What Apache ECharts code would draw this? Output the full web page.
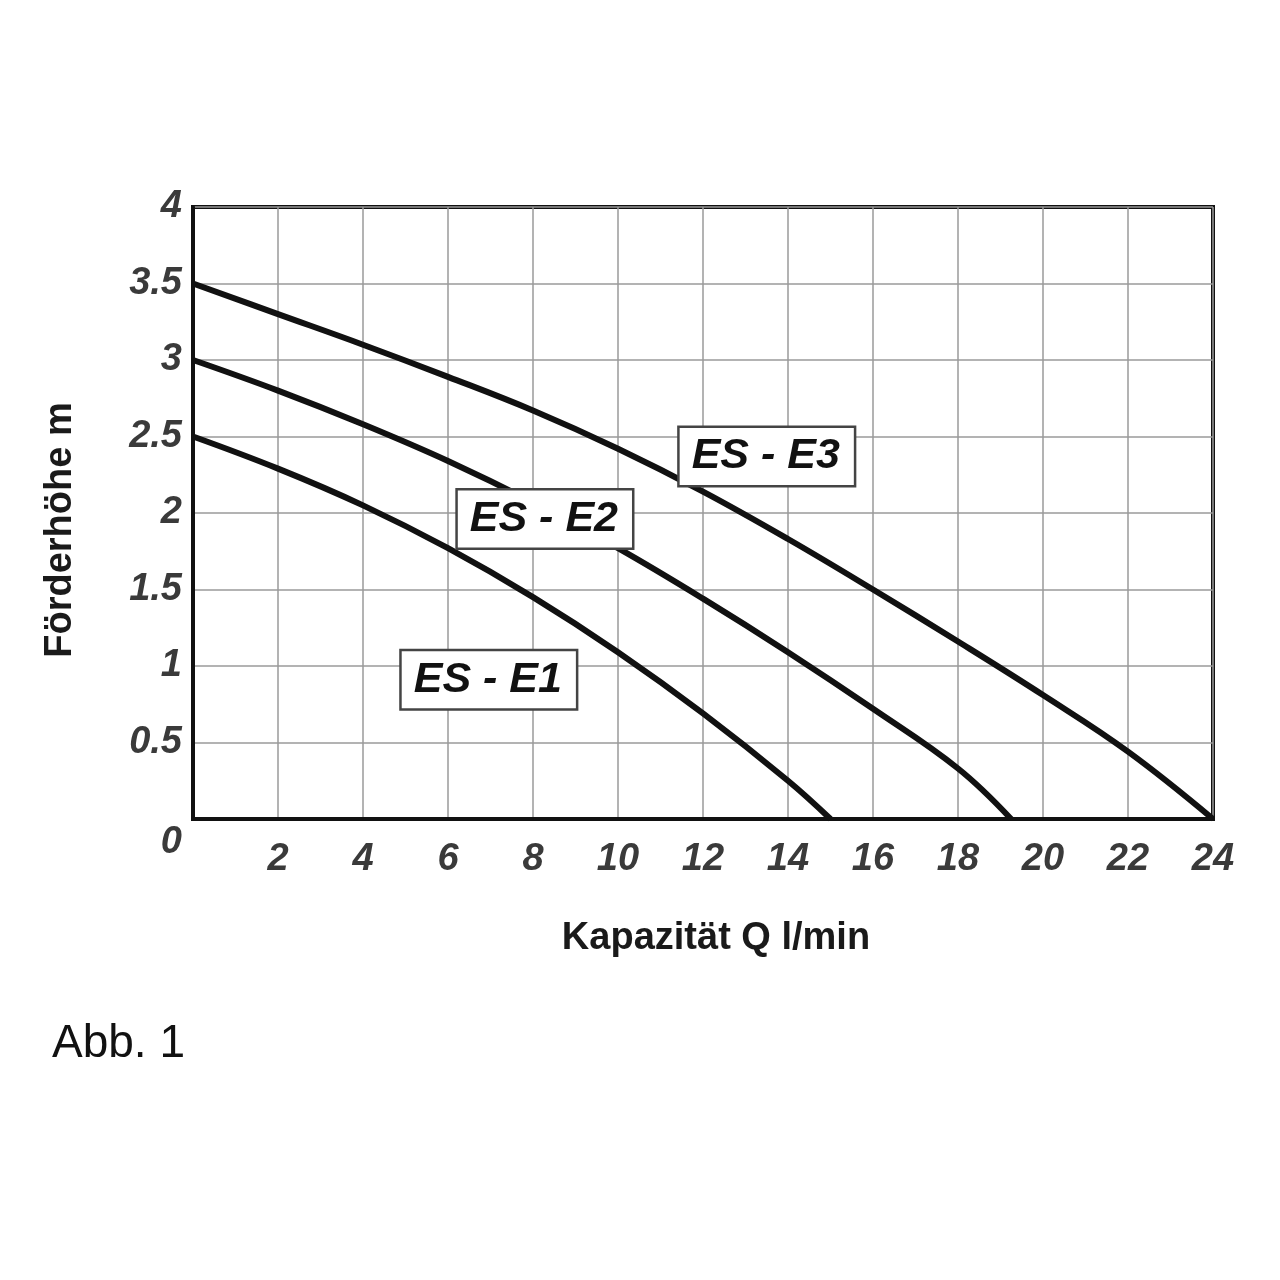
<!DOCTYPE html>
<html>
<head>
<meta charset="utf-8">
<title>Förderhöhe / Kapazität</title>
<script src="https://cdn.jsdelivr.net/npm/echarts@6/dist/echarts.min.js"></script>
<style>
  html, body { margin: 0; padding: 0; background: #fff; }
  #chart { width: 1280px; height: 1280px; }
</style>
</head>
<body>
<div id="chart"></div>
<script>
// Werte (Q in l/min, H in m)
var flowE1 = [0, 2, 4, 6, 8, 10, 12, 14, 15];
var headE1 = [2.5, 2.29, 2.05, 1.77, 1.45, 1.09, 0.69, 0.25, 0];

var flowE2 = [0, 2, 4, 6, 8, 10, 12, 14, 16, 18, 19.25];
var headE2 = [3.0, 2.80, 2.58, 2.34, 2.07, 1.77, 1.44, 1.09, 0.72, 0.33, 0];

var flowE3 = [0, 2, 4, 6, 8, 10, 12, 14, 16, 18, 20, 22, 24];
var headE3 = [3.5, 3.30, 3.10, 2.89, 2.67, 2.42, 2.14, 1.83, 1.50, 1.16, 0.81, 0.44, 0];

var seriesNames = ['ES - E1', 'ES - E2', 'ES - E3'];
// Lage der Beschriftungsfelder (Diagrammkoordinaten)
var labelPos = [[6.96, 0.91], [8.28, 1.96], [13.5, 2.37]];

var tickFont = {
  fontFamily: 'Liberation Sans, Arial, sans-serif',
  fontSize: 38,
  fontWeight: 'bold',
  fontStyle: 'italic',
  color: '#3a3a3a'
};

function pairs(xs, ys) {
  return xs.map(function (x, i) { return [x, ys[i]]; });
}

var myChart = echarts.init(document.getElementById('chart'));

var curveStyle = {
  type: 'line',
  smooth: 0.4,
  showSymbol: false,
  symbol: 'none',
  lineStyle: { color: '#111', width: 6 },
  silent: true
};

option = {
  backgroundColor: '#fff',
  animation: false,
  grid: {
    left: 193,
    right: 67,
    top: 207,
    bottom: 461,
    show: true,
    borderColor: '#111',
    borderWidth: 4,
    backgroundColor: 'transparent'
  },
  xAxis: {
    type: 'value',
    min: 0,
    max: 24,
    interval: 2,
    name: 'Kapazität Q l/min',
    nameLocation: 'middle',
    nameGap: 101,
    nameTextStyle: {
      fontFamily: 'Liberation Sans, Arial, sans-serif',
      fontSize: 38,
      fontWeight: 'bold',
      color: '#1a1a1a',
      padding: [0, 0, 0, 26]
    },
    axisLine: { show: true, lineStyle: { color: '#111', width: 4 } },
    axisTick: { show: false },
    splitLine: { show: true, lineStyle: { color: '#9a9a9a', width: 1.5 } },
    axisLabel: Object.assign({}, tickFont, {
      margin: 22,
      formatter: function (v) { return v === 0 ? '' : String(v); }
    })
  },
  yAxis: {
    type: 'value',
    min: 0,
    max: 4,
    interval: 0.5,
    name: 'Förderhöhe m',
    nameLocation: 'middle',
    nameRotate: 90,
    nameGap: 113,
    nameTextStyle: {
      fontFamily: 'Liberation Sans, Arial, sans-serif',
      fontSize: 38,
      fontWeight: 'bold',
      color: '#1a1a1a',
      padding: [0, 34, 0, 0]
    },
    axisLine: { show: true, lineStyle: { color: '#111', width: 4 } },
    axisTick: { show: false },
    splitLine: { show: true, lineStyle: { color: '#9a9a9a', width: 1.5 } },
    axisLabel: Object.assign({}, tickFont, {
      margin: 11,
      formatter: function (v) { return v === 0 ? '{z|0}' : String(v); },
      rich: {
        z: Object.assign({}, tickFont, { padding: [48, 0, 0, 0] })
      }
    })
  },
  series: [
    Object.assign({ name: seriesNames[0], data: pairs(flowE1, headE1) }, curveStyle),
    Object.assign({ name: seriesNames[1], data: pairs(flowE2, headE2) }, curveStyle),
    Object.assign({ name: seriesNames[2], data: pairs(flowE3, headE3) }, curveStyle),
    {
      type: 'scatter',
      z: 10,
      symbolSize: 0,
      itemStyle: { color: '#fff', opacity: 1 },
      silent: true,
      data: labelPos.map(function (p, i) {
        return { name: seriesNames[i], value: p };
      }),
      label: {
        show: true,
        position: 'inside',
        formatter: '{b}',
        fontFamily: 'Liberation Sans, Arial, sans-serif',
        fontSize: 43,
        fontWeight: 'bold',
        fontStyle: 'italic',
        color: '#111',
        opacity: 1,
        backgroundColor: '#fff',
        borderColor: '#444',
        borderWidth: 2.5,
        padding: [8, 14, 6, 12]
      }
    }
  ],
  graphic: [
    {
      type: 'text',
      left: 52,
      top: 1021,
      style: {
        text: 'Abb. 1',
        fontFamily: 'Liberation Sans, Arial, sans-serif',
        fontSize: 46,
        fill: '#111'
      }
    }
  ]
};

myChart.setOption(option);
</script>
</body>
</html>
